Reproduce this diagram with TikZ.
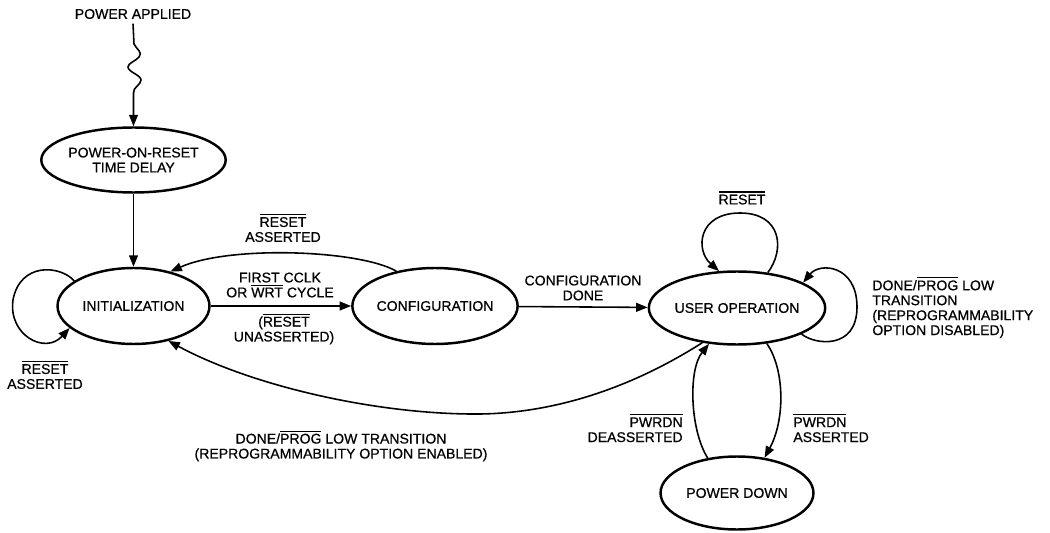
\documentclass[tikz,border=0pt]{standalone}
\usepackage{fontspec}
\setmainfont{Liberation Sans}[RawFeature={embolden=0.6}]
\usetikzlibrary{shapes.geometric,arrows.meta}
\newcommand{\ovl}[1]{\vbox{\hrule height 0.65pt\kern 1.1pt\hbox{#1}}}
\begin{document}
\begin{tikzpicture}[x=0.02cm,y=-0.02cm,
  every node/.style={font=\fontsize{8}{8.5}\selectfont, inner sep=0pt},
  state/.style={ellipse, draw, line width=1.4pt, align=center},
  lbl/.style={align=center},
  conn/.style={line width=0.9pt, -{Triangle[length=6.5pt,width=5pt]}}]
\useasboundingbox (0,0) rectangle (1050,533);

% states
\node[lbl, inner sep=2.5pt] (pa) at (133,14) {POWER APPLIED};
\node[state, minimum width=3.24cm, minimum height=1.3cm] (por) at (133.5,160) {POWER-ON-RESET\\TIME DELAY};
\node[state, minimum width=3.04cm, minimum height=1.52cm] (init) at (133.5,306) {INITIALIZATION};
\node[state, minimum width=3.08cm, minimum height=1.52cm] (cfg) at (435,306) {CONFIGURATION};
\node[state, minimum width=3.06cm, minimum height=1.46cm] (user) at (737,308) {USER OPERATION};
\node[state, minimum width=3.06cm, minimum height=1.46cm] (pd) at (737,493) {POWER DOWN};

% labels
\node[lbl] (l1) at (283,228) {\ovl{RESET}\\ASSERTED};
\node[lbl] (l2) at (280,285) {FIRST CCLK\\OR \ovl{WRT} CYCLE};
\node[lbl] (l3) at (284,329) {(\ovl{RESET}\\UNASSERTED)};
\node[lbl] (l4) at (583,288) {CONFIGURATION\\DONE};
\node[lbl] (l5) at (742,198) {\ovl{RESET}};
\node[lbl, anchor=north west, align=left] (l6) at (872,277) {DONE/\ovl{PROG} LOW\\TRANSITION\\(REPROGRAMMABILITY\\OPTION DISABLED)};
\node[lbl, anchor=north west, align=left] (l7) at (793,414) {\ovl{PWRDN}\\ASSERTED};
\node[lbl, anchor=north east, align=right] (l8) at (683,414) {\ovl{PWRDN}\\DEASSERTED};
\node[lbl] (l9) at (341,446) {DONE/\ovl{PROG} LOW TRANSITION\\(REPROGRAMMABILITY OPTION ENABLED)};
\node[lbl] (l10) at (45,375) {\ovl{RESET}\\ASSERTED};

% connectors
\draw[conn] (pa.south) -- (134,44) .. controls (137,50) and (143,52) .. (139,57)
  .. controls (136,61) and (128,63) .. (128,67)
  .. controls (128,72) and (141,75) .. (141,80)
  .. controls (141,85) and (133,87) .. (133.5,93) -- (por.north);
\draw[conn] (por) -- (init);
\draw[conn] (init.157) .. controls (60,265) and (20,262) .. (13,300)
  .. controls (8,335) and (45,355) .. (init.199);
\draw[conn] (cfg.138) .. controls (360,250) and (230,245) .. (init.43);
\draw[conn] (init) -- (cfg);
\draw[conn] (cfg) -- (user);
\draw[conn] (user.49) .. controls (785,250) and (782,213) .. (740,213)
  .. controls (698,213) and (695,250) .. (user.116);
\draw[conn] (user.-22) .. controls (815,345) and (857,350) .. (857,307)
  .. controls (857,265) and (820,262) .. (user.21);
\draw[conn] (user.-50) .. controls (785,370) and (785,420) .. (pd.52);
\draw[conn] (pd.130) .. controls (690,430) and (688,370) .. (user.232);
\draw[conn] (user.225) .. controls (620,395) and (540,415) .. (470,414)
  .. controls (370,413) and (250,385) .. (init.-45);
\end{tikzpicture}
\end{document}
